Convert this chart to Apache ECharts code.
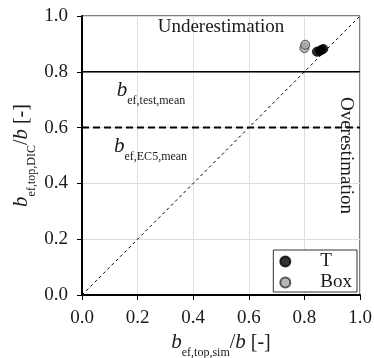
<!DOCTYPE html>
<html>
<head>
<meta charset="utf-8">
<script src="https://cdn.jsdelivr.net/npm/echarts@6/dist/echarts.min.js"></script>
<style>
  html, body { margin: 0; padding: 0; background: #fff; }
  #chart { width: 374px; height: 358px; }
</style>
</head>
<body>
<div id="chart"></div>
<script>
// Effective top-flange width ratios: simulation (x) vs. DIC measurement (y)
const tSim = [0.845, 0.855, 0.862, 0.868];
const tDic = [0.872, 0.875, 0.879, 0.882];
const boxSim = [0.800, 0.803];
const boxDic = [0.885, 0.897];

// Reference levels
const testMean = 0.8;
const ec5Mean = 0.6;

const axisTicks = [0, 0.2, 0.4, 0.6, 0.8, 1.0];

const FONT = 'Liberation Serif';
const INK = '#1a1a1a';

const pairs = (xs, ys) => xs.map((x, i) => [x, ys[i]]);

const subRich = {
  b: { fontFamily: FONT, fontStyle: 'italic', fontSize: 21, color: INK, verticalAlign: 'bottom', lineHeight: 22 },
  s: { fontFamily: FONT, fontSize: 12, color: INK, verticalAlign: 'bottom', lineHeight: 16, padding: [0, 0, -6, 0] },
  n: { fontFamily: FONT, fontSize: 20, color: INK, verticalAlign: 'bottom', lineHeight: 22 }
};

const chart = echarts.init(document.getElementById('chart'), null, { renderer: 'canvas' });

const axisCommon = {
  type: 'value',
  min: axisTicks[0],
  max: axisTicks[axisTicks.length - 1],
  interval: 0.2,
  axisLine: { show: true, onZero: false, lineStyle: { color: '#000', width: 2 } },
  axisTick: { show: true, inside: false, length: 5, lineStyle: { color: '#000', width: 1 } },
  axisLabel: {
    fontFamily: FONT, fontSize: 19, color: INK,
    formatter: v => v.toFixed(1)
  },
  splitLine: { show: true, lineStyle: { color: '#dedede', width: 1 } },
  nameLocation: 'middle',
  nameMoveOverlap: false,
  nameTextStyle: { rich: subRich }
};

chart.setOption({
  animation: false,
  backgroundColor: '#fff',
  grid: {
    left: 82, right: 14, top: 16, bottom: 63,
    outerBoundsMode: 'none',
    containLabel: false,
    show: true, borderColor: '#000', borderWidth: 1, backgroundColor: 'transparent'
  },
  xAxis: Object.assign({}, axisCommon, {
    name: '{b|b}{s|ef,top,sim}{n|/}{b|b}{n| [-]}',
    nameGap: 36,
    axisLabel: Object.assign({}, axisCommon.axisLabel, { margin: 14 })
  }),
  yAxis: Object.assign({}, axisCommon, {
    name: '{b|b}{s|ef,top,DIC}{n|/}{b|b}{n| [-]}',
    nameGap: 50,
    axisLabel: Object.assign({}, axisCommon.axisLabel, { margin: 14 })
  }),
  legend: {
    data: ['T', 'Box'],
    orient: 'vertical',
    right: 17,
    top: 250,
    backgroundColor: '#fff',
    borderColor: '#333',
    borderWidth: 1,
    padding: [2, 5, 0, 6],
    itemGap: 2,
    itemWidth: 10,
    itemHeight: 10,
    icon: 'circle',
    textStyle: { fontFamily: FONT, fontSize: 19, color: INK, lineHeight: 18, padding: [0, 0, 0, 25] }
  },
  series: [
    {
      name: 'diagonal',
      type: 'line',
      data: [[0, 0], [1, 1]],
      symbol: 'none',
      silent: true,
      lineStyle: { color: '#000', width: 1, type: [3, 3] },
      z: 1
    },
    {
      name: 'test mean',
      type: 'line',
      data: [[0, testMean], [1, testMean]],
      symbol: 'none',
      silent: true,
      lineStyle: { color: '#000', width: 1.5, type: 'solid' },
      z: 1
    },
    {
      name: 'EC5 mean',
      type: 'line',
      data: [[0, ec5Mean], [1, ec5Mean]],
      symbol: 'none',
      silent: true,
      lineStyle: { color: '#000', width: 2, type: [7, 4] },
      z: 1
    },
    {
      name: 'T',
      type: 'scatter',
      data: pairs(tSim, tDic),
      symbol: 'circle',
      symbolSize: 9,
      itemStyle: { color: '#000', borderColor: '#000', borderWidth: 1 },
      z: 3
    },
    {
      name: 'Box',
      type: 'scatter',
      data: pairs(boxSim, boxDic),
      symbol: 'circle',
      symbolSize: 9,
      itemStyle: { color: '#a6a6a6', borderColor: '#333', borderWidth: 1 },
      z: 3
    }
  ]
});

// Region and reference-level annotations, positioned in data space
function place(pt) { return chart.convertToPixel({ gridIndex: 0 }, pt); }
const pUnder = place([0.5, 0.96]);
const pOver = place([1.0, 0.50]);
const pTest = place([0.125, 0.735]);
const pEc5 = place([0.115, 0.535]);

const labelRich = {
  b: { fontFamily: FONT, fontStyle: 'italic', fontSize: 21, fill: INK, verticalAlign: 'bottom', lineHeight: 22 },
  s: { fontFamily: FONT, fontSize: 12, fill: INK, verticalAlign: 'bottom', lineHeight: 16, padding: [0, 0, -6, 0] }
};

chart.setOption({
  graphic: [
    {
      type: 'text', x: pUnder[0], y: pUnder[1], z: 10,
      style: { text: 'Underestimation', fontFamily: FONT, fontSize: 19, fill: INK, align: 'center', verticalAlign: 'middle' }
    },
    {
      type: 'text', x: pOver[0] - 14, y: pOver[1], rotation: -Math.PI / 2, z: 10,
      style: { text: 'Overestimation', fontFamily: FONT, fontSize: 19, fill: INK, align: 'center', verticalAlign: 'middle' }
    },
    {
      type: 'text', x: pTest[0], y: pTest[1], z: 10,
      style: { text: '{b|b}{s|ef,test,mean}', rich: labelRich, align: 'left', verticalAlign: 'middle' }
    },
    {
      type: 'text', x: pEc5[0], y: pEc5[1], z: 10,
      style: { text: '{b|b}{s|ef,EC5,mean}', rich: labelRich, align: 'left', verticalAlign: 'middle' }
    }
  ]
});
</script>
</body>
</html>
